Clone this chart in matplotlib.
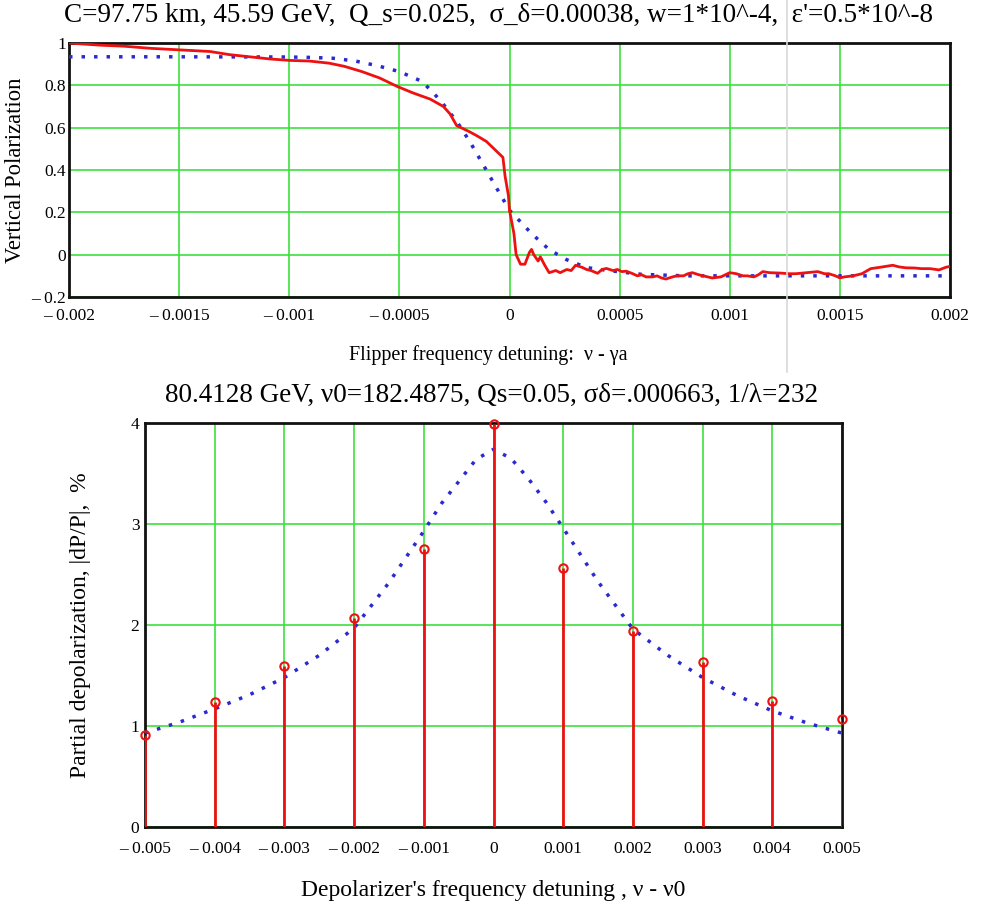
import matplotlib
matplotlib.use("Agg")
import matplotlib.pyplot as plt
from matplotlib.lines import Line2D

plt.rcParams.update({
    "font.family": ["Liberation Serif", "DejaVu Serif"],
    "font.size": 12,
})

# ---- top panel data: polarization vs flipper detuning ----
top_title = "C=97.75 km, 45.59 GeV,  Q_s=0.025,  σ_δ=0.00038, w=1*10^-4,  ε'=0.5*10^-8"
top_xlabel = "Flipper frequency detuning:  ν - γa"
top_ylabel = "Vertical Polarization"

# measured (noisy) curve
meas_x = [-0.002, -0.00186, -0.00175, -0.00163, -0.00154, -0.00145, -0.00136, -0.00127,
          -0.00118, -0.00109, -0.0010, -0.00091, -0.00082, -0.00075, -0.00067, -0.00059,
          -0.00051, -0.00044, -0.00036, -0.0003, -0.00027, -0.00024, -0.00021, -0.00018,
          -0.000145, -0.000105, -0.00008, -0.00006, -0.00003, -0.00002, -0.000005, 0.0,
          0.00002, 0.00003, 0.00005, 0.00007, 0.00009, 0.0001, 0.00011, 0.00013, 0.00014,
          0.00016, 0.00018, 0.00021, 0.00023, 0.00026, 0.00028, 0.0003, 0.00033, 0.00035,
          0.00037, 0.0004, 0.00042, 0.00044, 0.00047, 0.00049, 0.00051, 0.00053, 0.00056,
          0.00058, 0.0006, 0.00062, 0.00065, 0.00067, 0.00069, 0.00071, 0.00074, 0.00076,
          0.00079, 0.00081, 0.00083, 0.00086, 0.0009, 0.00092, 0.00096, 0.00098, 0.001,
          0.00103, 0.00106, 0.00108, 0.00111, 0.00113, 0.00115, 0.00118, 0.00123, 0.00127,
          0.0013, 0.00135, 0.0014, 0.00143, 0.00145, 0.00148, 0.0015, 0.00152, 0.00156,
          0.0016, 0.00164, 0.00168, 0.00171, 0.00174, 0.00177, 0.0018, 0.00184, 0.00187,
          0.00191, 0.00195, 0.00198, 0.002]
meas_y = [1.0, 0.99, 0.985, 0.975, 0.97, 0.965, 0.96, 0.945,
          0.935, 0.925, 0.918, 0.915, 0.905, 0.89, 0.865, 0.835,
          0.795, 0.765, 0.735, 0.70, 0.665, 0.61, 0.595, 0.58,
          0.56, 0.535, 0.51, 0.49, 0.46, 0.37, 0.28, 0.21,
          0.10, 0.0, -0.045, -0.045, 0.01, 0.025, 0.0, -0.03, -0.01,
          -0.05, -0.085, -0.075, -0.085, -0.07, -0.075, -0.05, -0.06, -0.07,
          -0.075, -0.088, -0.07, -0.065, -0.075, -0.07, -0.08, -0.078, -0.09,
          -0.1, -0.095, -0.105, -0.105, -0.1, -0.11, -0.115, -0.105, -0.1,
          -0.1, -0.09, -0.085, -0.095, -0.105, -0.11, -0.105, -0.095, -0.085,
          -0.09, -0.1, -0.1, -0.105, -0.095, -0.08, -0.085, -0.087, -0.09,
          -0.09, -0.085, -0.08, -0.09, -0.09, -0.1, -0.11, -0.105, -0.1,
          -0.09, -0.066, -0.06, -0.055, -0.05, -0.058, -0.062, -0.063, -0.066,
          -0.066, -0.072, -0.06, -0.055]

# theory curve (dotted)
theo_x = [-0.002, -0.0015, -0.001, -0.0009, -0.0008, -0.0007, -0.0006, -0.0005, -0.0004,
          -0.00035, -0.0003, -0.00024, -0.00018, -0.00012, -0.00006, 0.0, 0.0001,
          0.00018, 0.00026, 0.00035, 0.00045, 0.0006, 0.0008, 0.001, 0.0015, 0.002]
theo_y = [0.935, 0.935, 0.934, 0.932, 0.928, 0.915, 0.893, 0.865, 0.82,
          0.77, 0.71, 0.63, 0.534, 0.426, 0.317, 0.21, 0.10,
          0.024, -0.024, -0.061, -0.075, -0.093, -0.1, -0.1, -0.1, -0.1]

top_xticks = [-0.002, -0.0015, -0.001, -0.0005, 0, 0.0005, 0.001, 0.0015, 0.002]
top_xticklabels = ["– 0.002", "– 0.0015", "– 0.001", "– 0.0005", "0",
                   "0.0005", "0.001", "0.0015", "0.002"]
top_yticks = [-0.2, 0, 0.2, 0.4, 0.6, 0.8, 1.0]
top_yticklabels = ["– 0.2", "0", "0.2", "0.4", "0.6", "0.8", "1"]

# ---- bottom panel data: partial depolarization vs depolarizer detuning ----
bot_title = "80.4128 GeV, ν0=182.4875, Qs=0.05, σδ=.000663, 1/λ=232"
bot_xlabel = "Depolarizer's frequency detuning , ν - ν0"
bot_ylabel = "Partial depolarization, |dP/P|,  %"

stem_x = [-0.005, -0.004, -0.003, -0.002, -0.001, 0.0, 0.001, 0.002, 0.003, 0.004, 0.005]
stem_y = [0.91, 1.24, 1.59, 2.07, 2.75, 3.99, 2.56, 1.94, 1.63, 1.25, 1.07]

fit_x = [-0.005, -0.0045, -0.004, -0.0035, -0.003, -0.0025, -0.002, -0.0015, -0.001,
         -0.00075, -0.0005, -0.00025, 0.0, 0.00025, 0.0005, 0.00075, 0.001, 0.0015,
         0.002, 0.0025, 0.003, 0.0035, 0.004, 0.0045, 0.005]
fit_y = [0.93, 1.04, 1.17, 1.31, 1.48, 1.70, 1.97, 2.42, 2.93,
         3.20, 3.42, 3.64, 3.74, 3.65, 3.45, 3.22, 2.96, 2.43,
         1.96, 1.70, 1.48, 1.30, 1.15, 1.03, 0.93]

bot_xticks = [-0.005, -0.004, -0.003, -0.002, -0.001, 0, 0.001, 0.002, 0.003, 0.004, 0.005]
bot_xticklabels = ["– 0.005", "– 0.004", "– 0.003", "– 0.002", "– 0.001", "0",
                   "0.001", "0.002", "0.003", "0.004", "0.005"]
bot_yticks = [0, 1, 2, 3, 4]
bot_yticklabels = ["0", "1", "2", "3", "4"]

RED = "#ee1111"
BLUE = "#2a2ad0"
GREEN = "#3ee03e"

fig = plt.figure(figsize=(9.82, 9.08), dpi=100)


def style_axes(ax):
    ax.grid(True, color=GREEN, linewidth=1.2)
    ax.set_axisbelow(True)
    for s in ax.spines.values():
        s.set_linewidth(2)
        s.set_color("#111111")
    ax.tick_params(length=0, labelsize=12.5)


# Top panel
ax1 = fig.add_axes([0.0703, 0.6729, 0.8971, 0.2797])
ax1.plot(theo_x, theo_y, color=BLUE, linewidth=2.5, linestyle=(0, (1, 2.6)), zorder=3)
ax1.plot(meas_x, meas_y, color=RED, linewidth=2, zorder=4)
ax1.set_xlim(-0.002, 0.002)
ax1.set_ylim(-0.2, 1.0)
ax1.set_xticks(top_xticks)
ax1.set_xticklabels(top_xticklabels)
ax1.set_yticks(top_yticks)
ax1.set_yticklabels(top_yticklabels)
style_axes(ax1)
ax1.tick_params(axis="y", pad=2)
ax1.tick_params(axis="x", pad=8)

fig.text(0.508, 0.9835, top_title, ha="center", va="center", fontsize=19.5)
fig.text(0.497, 0.609, top_xlabel, ha="center", va="center", fontsize=14.5)
fig.text(0.0153, 0.813, top_ylabel, ha="center", va="center", fontsize=16.3, rotation=90)

# Bottom panel
ax2 = fig.add_axes([0.1477, 0.0892, 0.7097, 0.4449])
ax2.plot(fit_x, fit_y, color=BLUE, linewidth=2.5, linestyle=(0, (1, 2.6)), zorder=3)
ax2.vlines(stem_x, 0, stem_y, color=RED, linewidth=2, zorder=4)
ax2.plot(stem_x, stem_y, linestyle="none", marker="o", markersize=6,
         markerfacecolor="none", markeredgecolor=RED, markeredgewidth=1.5,
         zorder=5, clip_on=False)
ax2.set_xlim(-0.005, 0.005)
ax2.set_ylim(0, 4)
ax2.set_xticks(bot_xticks)
ax2.set_xticklabels(bot_xticklabels)
ax2.set_yticks(bot_yticks)
ax2.set_yticklabels(bot_yticklabels)
style_axes(ax2)
ax2.tick_params(axis="y", pad=4)
ax2.tick_params(axis="x", pad=10)

fig.text(0.501, 0.565, bot_title, ha="center", va="center", fontsize=19.5)
fig.text(0.502, 0.0198, bot_xlabel, ha="center", va="center", fontsize=17)
fig.text(0.0815, 0.312, bot_ylabel, ha="center", va="center", fontsize=17, rotation=90)

# faint vertical seam in the scan
fig.add_artist(Line2D([0.8014, 0.8014], [0.59, 1.0], color="#d8d8d8", linewidth=1.2))

fig.savefig("out.png", dpi=100)
